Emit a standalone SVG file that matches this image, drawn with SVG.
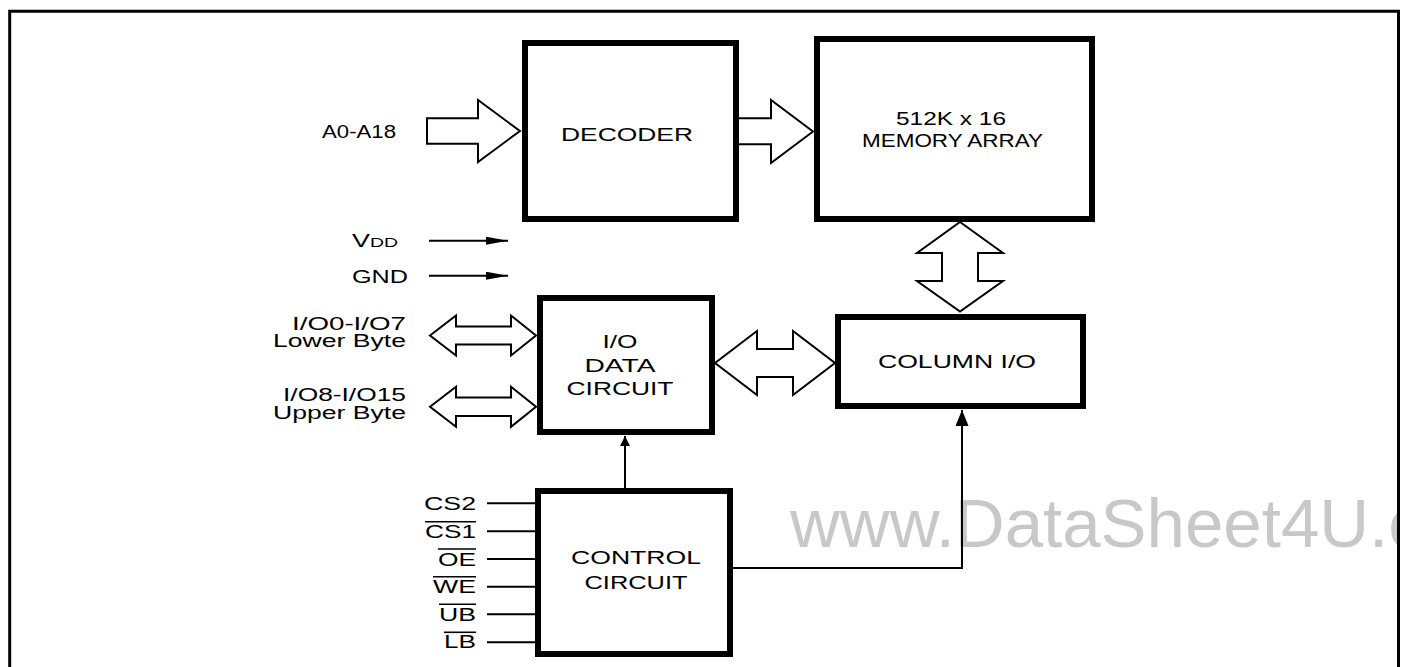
<svg xmlns="http://www.w3.org/2000/svg" width="1401" height="667" viewBox="0 0 1401 667">
  <defs>
    <style>
      text { font-family: "Liberation Sans", Arial, sans-serif; font-size: 18px; fill: #000; }
      .box { fill: #fff; stroke: #000; stroke-width: 6; }
      .bus { fill: #fff; stroke: #000; stroke-width: 2; stroke-linejoin: miter; }
      .wire { fill: none; stroke: #000; stroke-width: 2; }
      .bar { stroke: #000; stroke-width: 1.6; }
      .wm { font-size: 69px; fill: #c8c8c8; }
    </style>
    <marker id="ah" viewBox="0 0 10 10" refX="10" refY="5" markerWidth="10" markerHeight="10" markerUnits="userSpaceOnUse" orient="auto">
      <path d="M0,0 L10,5 L0,10 z" fill="#000"/>
    </marker>
    <marker id="ahs" viewBox="0 0 22 8" refX="22" refY="4" markerWidth="22" markerHeight="8" markerUnits="userSpaceOnUse" orient="auto">
      <path d="M0,0 L22,4 L0,8 z" fill="#000"/>
    </marker>
    <marker id="ahv" viewBox="0 0 16 13" refX="16" refY="6.5" markerWidth="16" markerHeight="13" markerUnits="userSpaceOnUse" orient="auto">
      <path d="M0,0 L16,6.5 L0,13 z" fill="#000"/>
    </marker>
    <clipPath id="frameclip"><rect x="0" y="0" width="1397" height="667"/></clipPath>
  </defs>

  <rect x="0" y="0" width="1401" height="667" fill="#fff"/>

  <!-- watermark -->
  <g clip-path="url(#frameclip)">
    <text class="wm" x="790" y="547">www.DataSheet4U.c</text>
  </g>

  <!-- outer frame -->
  <path d="M9.7,667 V11.3 H1398.5 V667" fill="none" stroke="#000" stroke-width="3"/>

  <!-- connectors -->
  <g id="connectors">
    <polygon class="bus" points="427,118.3 478,118.3 478,100 520,131 478,162 478,143.7 427,143.7"/>
    <polygon class="bus" points="736,118.3 771,118.3 771,100 813,131.5 771,163 771,144.3 736,144.3"/>
    <polygon class="bus" points="960,222 1003,253 978,253 978,281 1003,281 960,311.5 917,281 942,281 942,253 917,253"/>
    <polygon class="bus" points="715,363 757,331 757,349 793,349 793,331 835,363 793,395 793,377 757,377 757,395"/>
    <polygon class="bus" points="430,335.5 456,315.5 456,326.5 511,326.5 511,315.5 536,335.5 511,355.5 511,344.5 456,344.5 456,355.5"/>
    <polygon class="bus" points="430,406.8 456,386.8 456,397.6 511,397.6 511,386.8 536,406.8 511,426.8 511,416 456,416 456,426.8"/>
    <line class="wire" x1="429" y1="240.7" x2="508" y2="240.7" marker-end="url(#ahs)"/>
    <line class="wire" x1="429" y1="275.7" x2="508" y2="275.7" marker-end="url(#ahs)"/>
    <line class="wire" x1="487" y1="503.3" x2="536" y2="503.3"/>
    <line class="wire" x1="487" y1="531.3" x2="536" y2="531.3"/>
    <line class="wire" x1="487" y1="559" x2="536" y2="559"/>
    <line class="wire" x1="487" y1="586.7" x2="536" y2="586.7"/>
    <line class="wire" x1="487" y1="614.3" x2="536" y2="614.3"/>
    <line class="wire" x1="487" y1="642.3" x2="536" y2="642.3"/>
    <line class="wire" x1="625" y1="489" x2="625" y2="436" marker-end="url(#ah)"/>
    <polyline class="wire" points="733,568 962,568 962,410" marker-end="url(#ahv)"/>
  </g>

  <!-- nodes -->
  <g id="decoder">
    <rect class="box" x="525" y="43" width="211" height="176"/>
    <text x="627" y="141" text-anchor="middle" textLength="132" lengthAdjust="spacingAndGlyphs">DECODER</text>
  </g>

  <g id="memory-array">
    <rect class="box" x="817" y="39" width="275" height="180"/>
    <text x="951" y="124.5" text-anchor="middle" textLength="110" lengthAdjust="spacingAndGlyphs">512K x 16</text>
    <text x="952.5" y="146.5" text-anchor="middle" textLength="181" lengthAdjust="spacingAndGlyphs">MEMORY ARRAY</text>
  </g>

  <g id="io-data-circuit">
    <rect class="box" x="540" y="298" width="172" height="134"/>
    <text x="620" y="348.3" text-anchor="middle" textLength="35" lengthAdjust="spacingAndGlyphs">I/O</text>
    <text x="620" y="371.7" text-anchor="middle" textLength="71" lengthAdjust="spacingAndGlyphs">DATA</text>
    <text x="620" y="395" text-anchor="middle" textLength="107" lengthAdjust="spacingAndGlyphs">CIRCUIT</text>
  </g>

  <g id="column-io">
    <rect class="box" x="838" y="317" width="245" height="89"/>
    <text x="878" y="368" textLength="158" lengthAdjust="spacingAndGlyphs">COLUMN I/O</text>
  </g>

  <g id="control-circuit">
    <rect class="box" x="538" y="491" width="192" height="163"/>
    <text x="636" y="564.3" text-anchor="middle" textLength="130" lengthAdjust="spacingAndGlyphs">CONTROL</text>
    <text x="636" y="589" text-anchor="middle" textLength="103" lengthAdjust="spacingAndGlyphs">CIRCUIT</text>
  </g>

  <g id="address-input">
    <text x="396" y="137.5" text-anchor="end" textLength="74" lengthAdjust="spacingAndGlyphs">A0-A18</text>
  </g>

  <g id="power-pins">
    <text x="352" y="246.7" textLength="46" lengthAdjust="spacingAndGlyphs">V<tspan font-size="13">DD</tspan></text>
    <text x="352" y="282.7" textLength="56" lengthAdjust="spacingAndGlyphs">GND</text>
  </g>

  <g id="io-pins">
    <text x="406" y="330" text-anchor="end" textLength="114" lengthAdjust="spacingAndGlyphs">I/O0-I/O7</text>
    <text x="406" y="347.3" text-anchor="end" textLength="133" lengthAdjust="spacingAndGlyphs">Lower Byte</text>
    <text x="406" y="401" text-anchor="end" textLength="123" lengthAdjust="spacingAndGlyphs">I/O8-I/O15</text>
    <text x="406" y="418.5" text-anchor="end" textLength="133" lengthAdjust="spacingAndGlyphs">Upper Byte</text>
  </g>

  <g id="control-pins">
    <text x="476" y="510" text-anchor="end" textLength="52" lengthAdjust="spacingAndGlyphs">CS2</text>
    <text x="476" y="538.3" text-anchor="end" textLength="51" lengthAdjust="spacingAndGlyphs">CS1</text>
    <line class="bar" x1="425" y1="521.7" x2="476" y2="521.7"/>
    <text x="476" y="566" text-anchor="end" textLength="38" lengthAdjust="spacingAndGlyphs">OE</text>
    <line class="bar" x1="438" y1="549" x2="476" y2="549"/>
    <text x="476" y="593.3" text-anchor="end" textLength="43" lengthAdjust="spacingAndGlyphs">WE</text>
    <line class="bar" x1="433" y1="576.7" x2="476" y2="576.7"/>
    <text x="476" y="621" text-anchor="end" textLength="37" lengthAdjust="spacingAndGlyphs">UB</text>
    <line class="bar" x1="439" y1="604.3" x2="476" y2="604.3"/>
    <text x="476" y="648.3" text-anchor="end" textLength="32" lengthAdjust="spacingAndGlyphs">LB</text>
    <line class="bar" x1="444" y1="632.3" x2="476" y2="632.3"/>
  </g>
</svg>
